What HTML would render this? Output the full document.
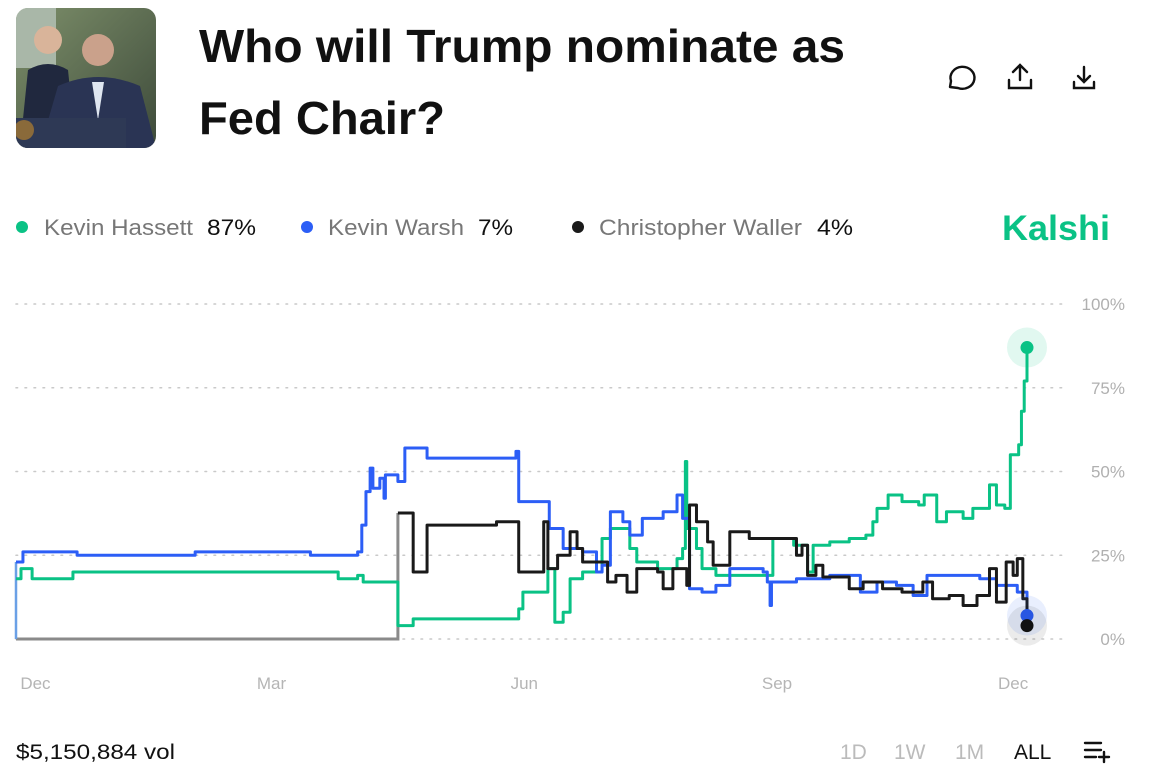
<!DOCTYPE html>
<html><head><meta charset="utf-8"><style>
html,body{margin:0;padding:0;background:#fff;width:1150px;height:780px;overflow:hidden}
svg{display:block;font-family:"Liberation Sans",sans-serif}
</style></head><body>
<svg id="root" width="1150" height="780" viewBox="0 0 1150 780">
  <defs><clipPath id="thumbclip"><rect x="16" y="8" width="140" height="140" rx="12"/></clipPath>
  <linearGradient id="bg1" x1="0" y1="0" x2="1" y2="1"><stop offset="0" stop-color="#7d8f6a"/><stop offset="1" stop-color="#3d4a3a"/></linearGradient></defs>
  <g clip-path="url(#thumbclip)">
    <rect x="16" y="8" width="140" height="140" fill="url(#bg1)"/>
    <rect x="16" y="8" width="40" height="60" fill="#a9b7a8"/>
    <circle cx="48" cy="40" r="14" fill="#d9b49a"/>
    <path d="M20 148 L28 70 Q48 58 68 70 L76 148Z" fill="#20283e"/>
    <circle cx="98" cy="50" r="16" fill="#caa18b"/>
    <path d="M40 148 L58 86 Q98 68 140 86 L156 148Z" fill="#2a3454"/>
    <path d="M92 82 L98 120 L104 82Z" fill="#dfe6f0"/>
    <rect x="16" y="118" width="110" height="30" fill="#2e3955"/>
    <circle cx="24" cy="130" r="10" fill="#8a6a3a"/>
  </g>
  <text x="199" y="62" font-size="46" font-weight="bold" fill="#111" textLength="646" lengthAdjust="spacingAndGlyphs">Who will Trump nominate as</text>
  <text x="199" y="134" font-size="46" font-weight="bold" fill="#111" textLength="246" lengthAdjust="spacingAndGlyphs">Fed Chair?</text>
  <g fill="none" stroke="#111" stroke-width="2.4">
    <path d="M950 87 L951 81 A12 11 0 1 1 958 88 Z" stroke-linejoin="round"/>
  </g>
  <g fill="none" stroke="#111" stroke-width="2.4" stroke-linecap="round">
    <path d="M1020 80 V65 M1013 72 L1020 65 L1027 72 M1009 80 V88 H1031 V80"/>
  </g>
  <g fill="none" stroke="#111" stroke-width="2.4" stroke-linecap="round">
    <path d="M1084 67 V82 M1078 76 L1084 82 L1090 76 M1074 82 V88 H1094 V82"/>
  </g>

  <g font-size="22">
    <g>
      <circle cx="22" cy="227" r="6" fill="#0ac285"/>
      <text x="44" y="235" fill="#777" textLength="149" lengthAdjust="spacingAndGlyphs">Kevin Hassett</text>
      <text x="207" y="235" fill="#111" textLength="49" lengthAdjust="spacingAndGlyphs">87%</text>
    </g>
    <g>
      <circle cx="307" cy="227" r="6" fill="#2c5ef6"/>
      <text x="328" y="235" fill="#777" textLength="136" lengthAdjust="spacingAndGlyphs">Kevin Warsh</text>
      <text x="478" y="235" fill="#111" textLength="35" lengthAdjust="spacingAndGlyphs">7%</text>
    </g>
    <g>
      <circle cx="578" cy="227" r="6" fill="#1a1a1a"/>
      <text x="599" y="235" fill="#777" textLength="203" lengthAdjust="spacingAndGlyphs">Christopher Waller</text>
      <text x="817" y="235" fill="#111" textLength="36" lengthAdjust="spacingAndGlyphs">4%</text>
    </g>
  </g>
  <text x="1002" y="240" font-size="35" font-weight="bold" fill="#0ac285" textLength="108" lengthAdjust="spacingAndGlyphs">Kalshi</text>

  <g id="grid"></g>
  <g id="xaxis"></g>
  <g id="series"></g>

  <text x="16" y="759" font-size="21" fill="#111" textLength="159" lengthAdjust="spacingAndGlyphs">$5,150,884 vol</text>
  <g font-size="21">
    <text x="840" y="759" fill="#bbb">1D</text>
    <text x="894" y="759" fill="#bbb">1W</text>
    <text x="955" y="759" fill="#bbb">1M</text>
    <text x="1014" y="759" fill="#111">ALL</text>
  </g>
  <g stroke="#111" stroke-width="2.4" stroke-linecap="round">
    <path d="M1085 743 H1101 M1085 750 H1101 M1085 757 H1096 M1104 752 V762 M1099 757 H1109"/>
  </g>
</svg>
<script>
const yTicks = [0, 25, 50, 75, 100];
const yTickLabels = ["0%", "25%", "50%", "75%", "100%"];
const xTickDays = [7, 92, 183, 274, 359];
const xTickLabels = ["Dec", "Mar", "Jun", "Sep", "Dec"];
const hassettDays = [0,1.8,5.8,20.5,116,123,125,137.5,143,181,182.5,191.5,194,197,199.5,204,211,214,221,223.5,231,238,240,241,241.5,245,247,252,272.5,280,285,287,293,300,306,308.5,310,314,319,325,327,331.5,335,341,344.5,350.5,353,356,358,361,362,363,364];
const hassettVals = [18,21,18,20,18,19,17,4,6,9,14,21,5,8,18,20,30,33,27,23,21,24,27,53,33,27,21,19,30,28,20,28,29,30,31,35,39,43,41,40,43,35,38,36,39,46,40,39,55,58,68,77,87];
const warshDays = [0,2.5,22,64.5,106,123,124.5,126,127.5,128.5,131,132.5,133,137.5,140,148,180,181,190,192,197,204,209,211,214,218.5,221,225.5,233,238,240,242.5,247,252,257,269,270.5,271.5,272,281,293,304,310,317,323,328,339,347,353,360.5,364];
const warshVals = [23,26,25,26,25,26,34,44,51,45,48,42,49,47,57,54,56,41,41,33,27,26,20,22,38,35,31,36,38,43,36,15,14,16,21,20,17,10,17,18,19,14,17,16,13,19,19,18,16,14,7];
const wallerDays = [0,137.5,143,148,173,181,190,191.5,195,199.5,202,204,213,216,220,223.5,231,233,236.5,241.5,242.5,245,249,251,257,264,277.5,281,283,285,288,290.5,300,305,312,319,326.5,330,336,341,346,350.5,353,356.5,359,360.5,362.5,364];
const wallerVals = [0,37.6,20,34,35,20,35,21,25,32,27,23,17,19,14,21,20,15,21,16,40,35,29,22,32,30,30,25,28,19,22,18.5,15,17,15,14,17,12,13,10,13,21,11,23,19,24,12,4];

const NS = "http://www.w3.org/2000/svg";
const X0 = 16, X1 = 1027, DMAX = 364, Y0 = 639, Y100 = 304;
function xScale(d){ return X0 + (d / DMAX) * (X1 - X0); }
function yScale(v){ return Y0 - (v / 100) * (Y0 - Y100); }
function mk(tag, attrs, parent){ const e = document.createElementNS(NS, tag); for (const k in attrs) e.setAttribute(k, attrs[k]); parent.appendChild(e); return e; }

const grid = document.getElementById('grid');
yTicks.forEach((t, i) => {
  const l = mk('line', {x1: 16, x2: 1062, y1: yScale(t), y2: yScale(t), stroke: '#c9c9c9', 'stroke-width': 1.6, 'stroke-dasharray': '1.6 7.4', 'stroke-linecap': 'round'}, grid);
  
  
  const tx = mk('text', {x: 1125, y: yScale(t) + 6, 'font-size': 17, fill: '#b0b0b0', 'text-anchor': 'end'}, grid);
  tx.textContent = yTickLabels[i];
  
  
});
const xaxis = document.getElementById('xaxis');
xTickDays.forEach((d, i) => {
  const tx = mk('text', {x: xScale(d), y: 689, 'font-size': 17, fill: '#b5b5b5', 'text-anchor': 'middle'}, xaxis);
  tx.textContent = xTickLabels[i];
  
  
});

function stepPath(days, vals, from, to){
  let d = '';
  for (let i = from; i <= to; i++){
    const x = xScale(days[i]), y = yScale(vals[i]);
    if (i === from) d += 'M' + x + ' ' + y;
    else d += ' H' + x + ' V' + y;
  }
  return d;
}
const series = document.getElementById('series');
const wg = mk('path', {d: stepPath(wallerDays, wallerVals, 0, 1), fill: 'none', stroke: '#8a8a8a', 'stroke-width': 3}, series);


const bl = mk('line', {x1: xScale(0), x2: xScale(0), y1: yScale(0), y2: yScale(warshVals[0]), stroke: '#6aa0e6', 'stroke-width': 2.5}, series);



const defs = [
  ['hassett-line', hassettDays, hassettVals, '#0ac285'],
  ['warsh-line', warshDays, warshVals, '#2c5ef6'],
  ['waller-line', wallerDays, wallerVals, '#1a1a1a']
];
defs.forEach(([name, days, vals, col]) => {
  const from = name === 'waller-line' ? 1 : 0;
  const p = mk('path', {d: stepPath(days, vals, from, days.length - 1), fill: 'none', stroke: col, 'stroke-width': 3, 'stroke-linejoin': 'round'}, series);
  
  
});
function endDot(days, vals, col, halo, name){
  const n = days.length - 1, cx = xScale(days[n]), cy = yScale(vals[n]);
  const h = mk('circle', {cx: cx, cy: cy, r: 20, fill: halo}, series);
  
  
  const c = mk('circle', {cx: cx, cy: cy, r: 6.5, fill: col}, series);
  
  
}
endDot(hassettDays, hassettVals, '#0ac285', 'rgba(10,194,133,0.12)', 'hassett-end-dot');
endDot(warshDays, warshVals, '#2c5ef6', 'rgba(44,94,246,0.1)', 'warsh-end-dot');
endDot(wallerDays, wallerVals, '#111', 'rgba(0,0,0,0.08)', 'waller-end-dot');
</script>
</body></html>
